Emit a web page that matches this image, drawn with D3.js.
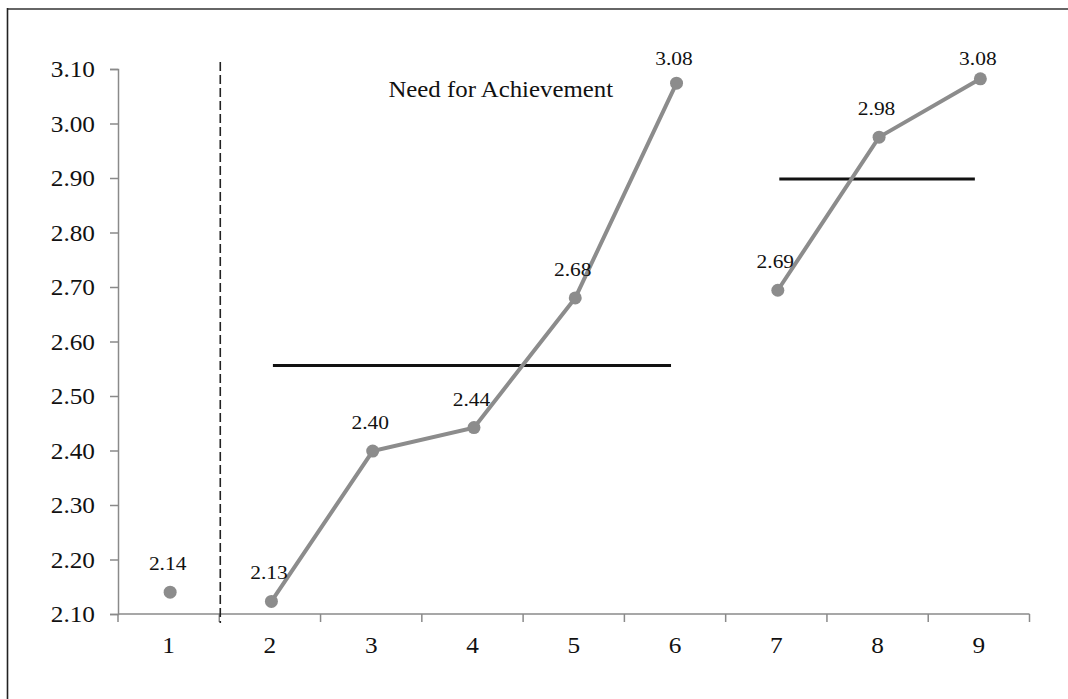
<!DOCTYPE html>
<html><head><meta charset="utf-8">
<script src="https://cdn.jsdelivr.net/npm/d3@7"></script>
<style>
body{margin:0;background:#fff;}
svg{display:block;font-family:"Liberation Serif","Times New Roman",serif;}
</style></head>
<body>
<svg id="chart" width="1068" height="699"></svg>
<script>
const categories = ["1","2","3","4","5","6","7","8","9"];
const values = [2.14, 2.123, 2.399, 2.442, 2.68, 3.074, 2.694, 2.975, 3.082];
const valueLabels = ["2.14","2.13","2.40","2.44","2.68","3.08","2.69","2.98","3.08"];
const segments = [["1"], ["2","3","4","5","6"], ["7","8","9"]];
const meanLines = [{from:"2", to:"6", value:2.556}, {from:"7", to:"9", value:2.898}];
const yTicks = [2.10,2.20,2.30,2.40,2.50,2.60,2.70,2.80,2.90,3.00,3.10];
const title = "Need for Achievement";
const dividerAfter = "1";

const svg = d3.select("#chart");
const mLeft = 118, mRight = 1029.5, mTop = 69, mBottom = 614;

const x = d3.scaleBand().domain(categories).range([mLeft, mRight]).padding(0);
const y = d3.scaleLinear().domain([2.10, 3.10]).range([mBottom, mTop]);
const cx = c => x(c) + x.bandwidth()/2;

// frame (top and left edges)
svg.append("line").attr("x1",7).attr("x2",1068).attr("y1",9).attr("y2",9)
  .attr("stroke","#666").attr("stroke-width",2);
svg.append("line").attr("x1",7.5).attr("x2",7.5).attr("y1",8).attr("y2",699)
  .attr("stroke","#222").attr("stroke-width",1.6);

const axisColor = "#8a8a8a";
const textColor = "#111";
// Y axis
const yAxis = svg.append("g").attr("transform",`translate(${mLeft},0)`)
  .call(d3.axisLeft(y).tickValues(yTicks).tickSize(8).tickFormat(d3.format(".2f")));
yAxis.select(".domain").attr("stroke",axisColor).attr("stroke-width",1.5);
yAxis.selectAll(".tick line").attr("stroke",axisColor).attr("stroke-width",1.5);
yAxis.selectAll(".tick text").each(function(){
  const t = d3.select(this);
  t.attr("x",null).attr("dy",null);
  t.attr("transform","translate(-23,7.5) scale(1.1,1)")
   .attr("text-anchor","end").attr("fill",textColor)
   .style("font-size","23px").style("font-family","Liberation Serif, Times New Roman, serif");
});

// X axis with ticks at category boundaries
const xg = svg.append("g").attr("transform",`translate(0,${mBottom})`);
xg.append("line").attr("x1",mLeft).attr("x2",mRight).attr("stroke",axisColor).attr("stroke-width",1.5);
const bounds = categories.map(c => x(c)).concat([mRight]);
xg.selectAll(".bt").data(bounds).join("line")
  .attr("x1",d=>d).attr("x2",d=>d).attr("y1",0).attr("y2",8)
  .attr("stroke",axisColor).attr("stroke-width",1.5);
xg.selectAll(".xl").data(categories).join("text")
  .attr("transform",d=>`translate(${cx(d)},39) scale(1.1,1)`)
  .attr("text-anchor","middle").attr("fill",textColor).style("font-size","23px")
  .text(d=>d);

// divider dashed line
const dx = x(dividerAfter) + x.bandwidth();
svg.append("line").attr("x1",dx+1).attr("x2",dx+1).attr("y1",62).attr("y2",623)
  .attr("stroke","#222").attr("stroke-width",1.6).attr("stroke-dasharray","9,4");

// mean lines
svg.selectAll(".mean").data(meanLines).join("line")
  .attr("x1",d=>cx(d.from)+3).attr("x2",d=>cx(d.to)-4)
  .attr("y1",d=>y(d.value)).attr("y2",d=>y(d.value))
  .attr("stroke","#111").attr("stroke-width",3);

// series
const pts = categories.map((c,i)=>({c, v:values[i], label:valueLabels[i]}));
const byCat = Object.fromEntries(pts.map(p=>[p.c,p]));
const line = d3.line().x(p=>cx(p.c)+1.5).y(p=>y(p.v));
const grey = "#8c8c8c";
svg.selectAll(".seg").data(segments.filter(s=>s.length>1)).join("path")
  .attr("d",s=>line(s.map(c=>byCat[c])))
  .attr("fill","none").attr("stroke",grey).attr("stroke-width",4);
svg.selectAll(".pt").data(pts).join("circle")
  .attr("cx",p=>cx(p.c)+1.5).attr("cy",p=>y(p.v)).attr("r",6.5).attr("fill",grey);

svg.selectAll(".vl").data(pts).join("text")
  .attr("transform",p=>`translate(${cx(p.c)-1},${Math.max(y(p.v)-22,65)}) scale(1.1,1)`)
  .attr("text-anchor","middle").attr("fill",textColor).style("font-size","19.5px")
  .text(p=>p.label);

// title
svg.append("text")
  .attr("transform",`translate(${(mLeft+mRight)/2 - 73},97) scale(1.08,1)`)
  .attr("text-anchor","middle").attr("fill","#111").style("font-size","23px")
  .text(title);
</script>
</body></html>
